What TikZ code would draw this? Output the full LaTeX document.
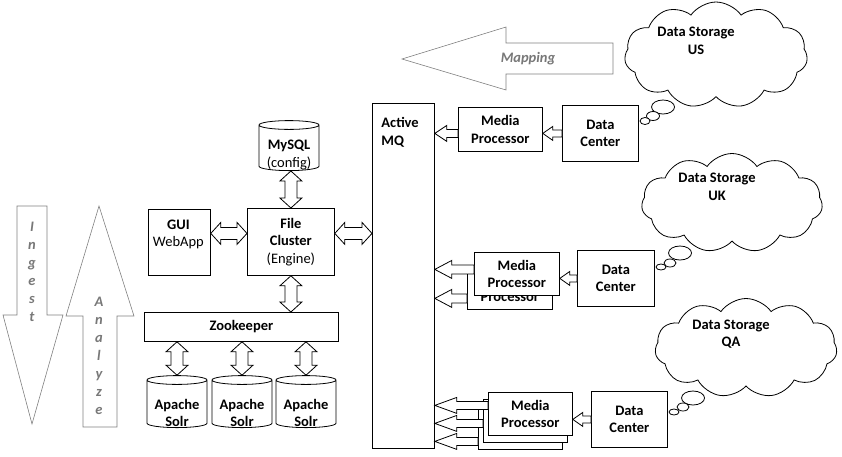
\documentclass[tikz,border=0pt]{standalone}
\usepackage{fontspec}
\setmainfont{Carlito}
\usetikzlibrary{shapes.geometric,shapes.symbols,calc}
\definecolor{flowgray}{RGB}{128,128,128}
\definecolor{flowtext}{RGB}{120,120,120}
\tikzset{
  box/.style={draw, fill=white, anchor=north west, align=center, inner sep=0pt, font=\fontsize{14.5}{17.5}\selectfont\bfseries},
  boxtext/.style={align=center, inner sep=0pt, font=\fontsize{14.5}{17.5}\selectfont\bfseries},
  db/.style={cylinder, shape border rotate=90, aspect=0.2, draw, fill=white, inner sep=0pt, text width=44pt, text height=17pt, text depth=10pt, minimum width=60pt, minimum height=50pt},
  storage/.style={cloud, cloud puffs=11, cloud puff arc=110, aspect=1.8, draw, fill=white, inner sep=0pt},
  storagetext/.style={align=center, font=\fontsize{14.5}{17.5}\selectfont\bfseries},
  bubble/.style={draw, fill=white},
  blockarrow/.style={draw, fill=white},
  flow/.style={draw=flowgray, line width=0.6pt},
  flowlabel/.style={text=flowtext, align=center, font=\fontsize{14.5}{18}\selectfont\bfseries\itshape},
}
\newcommand\dblh[2]{\draw[blockarrow] let \p1=#1, \p2=#2 in (\x1,\y1) -- (\x1+10pt,\y1+11pt) -- (\x1+10pt,\y1+6pt) -- (\x2-10pt,\y1+6pt) -- (\x2-10pt,\y1+11pt) -- (\x2,\y1) -- (\x2-10pt,\y1-11pt) -- (\x2-10pt,\y1-6pt) -- (\x1+10pt,\y1-6pt) -- (\x1+10pt,\y1-11pt) -- cycle;}
\newcommand\dblv[2]{\draw[blockarrow] let \p1=#1, \p2=#2 in (\x1,\y1) -- (\x1+11pt,\y1-10pt) -- (\x1+6pt,\y1-10pt) -- (\x1+6pt,\y2+10pt) -- (\x1+11pt,\y2+10pt) -- (\x1,\y2) -- (\x1-11pt,\y2+10pt) -- (\x1-6pt,\y2+10pt) -- (\x1-6pt,\y1-10pt) -- (\x1-11pt,\y1-10pt) -- cycle;}
\newcommand\sglleft[4]{\draw[blockarrow] let \p1=#1, \p2=#2 in (\x1,\y1) -- (\x1+#4,\y1+#3) -- (\x1+#4,\y1+#3/2) -- (\x2,\y1+#3/2) -- (\x2,\y1-#3/2) -- (\x1+#4,\y1-#3/2) -- (\x1+#4,\y1-#3) -- cycle;}
\begin{document}
\begin{tikzpicture}[x=1pt, y=-1pt, line width=0.8pt]
\useasboundingbox (0,0) rectangle (842,456);
\draw[flow] (17,206) -- (47,206) -- (47,315) -- (63,315) -- (32,424) -- (3,315) -- (17,315) -- cycle;
\draw[flow] (99,206) -- (134,316) -- (117,316) -- (117,427) -- (83,427) -- (83,316) -- (66,316) -- cycle;
\draw[flow] (402,59) -- (506,27) -- (506,43) -- (613,43) -- (613,74) -- (506,74) -- (506,90) -- cycle;
\node[flowlabel] (ingest) at (32,272) {I\\n\\g\\e\\s\\t};
\node[flowlabel] (analyze) at (99,356) {A\\n\\a\\l\\y\\z\\e};
\node[flowlabel] (mapping) at (528,59) {Mapping};
\node[db] (mysql) at (289,148) {};
\node[boxtext] (mysqllabel) at ([yshift=-7pt]mysql.center) {MySQL\\\mdseries(config)};
\node[box, minimum width=87pt, minimum height=67pt] (fc) at (247,208) {File\\Cluster\\\mdseries(Engine)};
\node[box, minimum width=62pt, minimum height=66pt] (gui) at (148,209) {};
\node[boxtext] (guilabel) at ([xshift=-1pt,yshift=8pt]gui.center) {GUI\\\mdseries WebApp};
\node[box, minimum width=194pt, minimum height=29pt] (zk) at (144,312) {Zookeeper};
\foreach \k/\x in {1/177,2/242,3/306} {
  \node[db, minimum height=52pt] (solr\k) at (\x,404) {};
  \node[boxtext] (solrlabel\k) at ([yshift=-9pt]solr\k.center) {Apache\\Solr};
}
\node[box, minimum width=62pt, minimum height=345pt] (amq) at (372,103) {};
\node[boxtext, anchor=north west, align=left] (amqlabel) at (381,117) {Active\\MQ};
\node[box, minimum width=84pt, minimum height=44pt] (mpUS) at (458,107) {Media\\Processor};
\node[box, minimum width=76pt, minimum height=56pt] (dcUS) at (562,105) {Data\\Center};
\node[box, minimum width=85pt, minimum height=44pt] (mpUKb) at (467,265) {Media\\Processor};
\node[box, minimum width=85pt, minimum height=43pt] (mpUK) at (474,252) {Media\\Processor};
\node[box, minimum width=77pt, minimum height=56pt] (dcUK) at (577,250) {Data\\Center};
\node[box, minimum width=84pt, minimum height=43pt] (mpQAc) at (478,406) {};
\node[box, minimum width=84pt, minimum height=43pt] (mpQAb) at (483,399) {};
\node[box, minimum width=84pt, minimum height=43pt] (mpQA) at (488,392) {Media\\Processor};
\node[box, minimum width=76pt, minimum height=56pt] (dcQA) at (591,391) {Data\\Center};
\node[storage, minimum width=183pt, minimum height=106pt] (cloudUS) at (716,55) {};
\node[storage, minimum width=181pt, minimum height=99pt] (cloudUK) at (732,203) {};
\node[storage, minimum width=182pt, minimum height=99pt] (cloudQA) at (746,348) {};
\node[storagetext] (storeUS) at (696,41) {Data Storage\\US};
\node[storagetext] (storeUK) at (717,187) {Data Storage\\UK};
\node[storagetext] (storeQA) at (731,334) {Data Storage\\QA};
\draw[bubble] (663,107) ellipse [x radius=11.5pt, y radius=7pt];
\draw[bubble] (653,116) ellipse [x radius=6.5pt, y radius=4.5pt];
\draw[bubble] (645,121) ellipse [x radius=5pt, y radius=3.5pt];
\draw[bubble] (680,253) ellipse [x radius=11.5pt, y radius=7pt];
\draw[bubble] (670,263) ellipse [x radius=6pt, y radius=4pt];
\draw[bubble] (661,267) ellipse [x radius=5pt, y radius=3pt];
\draw[bubble] (693,398) ellipse [x radius=11.5pt, y radius=7pt];
\draw[bubble] (683,407) ellipse [x radius=6pt, y radius=4pt];
\draw[bubble] (674,412) ellipse [x radius=5pt, y radius=3pt];
\coordinate (busA) at ([yshift=9pt]gui.east);
\coordinate (busB) at ([yshift=8.5pt]fc.east);
\dblh{(busA)}{(busA -| fc.west)}
\dblh{(busB)}{(busB -| amq.west)}
\dblv{(fc.north |- mysql.south)}{(fc.north)}
\dblv{(fc.south)}{(fc.south |- zk.north)}
\foreach \k in {1,2,3} {\dblv{(solr\k.north |- zk.south)}{(solr\k.north)}}
\sglleft{(dcUS.west -| mpUS.east)}{(dcUS.west)}{7pt}{10pt}
\sglleft{(dcUS.west -| amq.east)}{(dcUS.west -| mpUS.west)}{8pt}{12pt}
\coordinate (ukA) at ([yshift=4.5pt]mpUK.west);
\coordinate (ukB) at ([yshift=-11pt]mpUKb.west);
\sglleft{(dcUK.west -| mpUK.east)}{(dcUK.west)}{7pt}{10pt}
\sglleft{(ukA -| amq.east)}{(ukA)}{9pt}{17pt}
\sglleft{(ukB -| amq.east)}{(ukB)}{9pt}{17pt}
\sglleft{(dcQA.west -| mpQA.east)}{(dcQA.west)}{7pt}{10pt}
\foreach \b/\s in {mpQA/8.5,mpQAb/-2.5,mpQAc/-13.5} {
  \coordinate (qa\b) at ([yshift=\s pt]\b.west);
  \sglleft{(qa\b -| amq.east)}{(qa\b)}{8pt}{22pt}
}
\end{tikzpicture}
\end{document}
